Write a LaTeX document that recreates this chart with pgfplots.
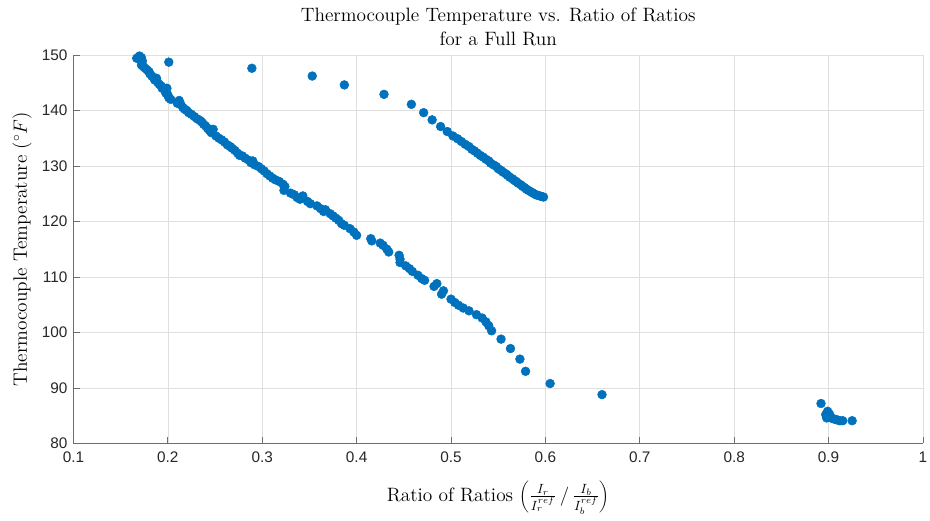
\documentclass[border=0pt]{standalone}
\usepackage{fontspec}
\usepackage{pgfplots}
\pgfplotsset{compat=1.18}
\newfontfamily\tickfont{Liberation Sans}
\definecolor{mblue}{RGB}{0,114,189}
\definecolor{axgray}{RGB}{110,110,110}
\definecolor{grd}{RGB}{223,223,223}
\pgfplotstableread{
x y
0.167 149.4
0.169 149.6
0.170 149.8
0.171 149.2
0.172 149.5
0.173 148.9
0.172 148.2
0.174 147.9
0.176 147.6
0.178 147.3
0.180 147.0
0.181 146.6
0.183 146.2
0.185 145.9
0.186 145.5
0.188 145.8
0.189 145.1
0.191 144.7
0.193 144.4
0.194 144.0
0.196 143.9
0.197 143.5
0.198 143.1
0.200 142.8
0.201 142.3
0.203 142.0
0.199 144.0
0.210 141.3
0.212 141.8
0.214 141.0
0.216 140.5
0.218 140.2
0.220 140.0
0.222 139.6
0.225 139.3
0.228 138.9
0.231 138.5
0.234 138.2
0.236 137.9
0.238 137.5
0.240 137.2
0.242 136.8
0.244 136.4
0.246 136.0
0.248 136.6
0.251 135.4
0.254 135.0
0.257 134.7
0.260 134.3
0.263 133.8
0.266 133.5
0.268 133.2
0.271 132.8
0.274 132.3
0.276 131.9
0.279 131.8
0.282 131.4
0.286 131.0
0.288 130.6
0.290 130.9
0.292 130.2
0.296 129.9
0.299 129.5
0.302 129.1
0.305 128.6
0.308 128.2
0.311 127.8
0.314 127.5
0.318 127.2
0.322 126.7
0.324 126.3
0.323 125.6
0.330 125.1
0.334 124.8
0.337 124.3
0.340 124.0
0.343 124.6
0.348 123.6
0.351 123.2
0.358 122.8
0.362 122.3
0.365 121.8
0.367 122.1
0.372 121.4
0.375 121.0
0.378 120.6
0.381 120.2
0.384 119.6
0.387 119.3
0.393 118.7
0.397 118.1
0.400 117.5
0.415 116.9
0.416 116.5
0.425 116.1
0.428 115.7
0.432 115.0
0.434 114.5
0.445 113.9
0.446 113.2
0.446 112.6
0.452 112.0
0.456 111.5
0.459 111.0
0.465 110.3
0.469 109.7
0.472 109.4
0.482 108.3
0.485 108.8
0.490 106.9
0.492 107.5
0.500 106.0
0.504 105.4
0.508 104.9
0.513 104.4
0.519 103.9
0.527 103.2
0.533 102.6
0.537 101.9
0.540 101.2
0.543 100.3
0.553 98.8
0.563 97.1
0.573 95.2
0.579 93.0
0.605 90.8
0.660 88.8
}\lowerbranch
\pgfplotstableread{
x y
0.201 148.7
0.289 147.6
0.353 146.2
0.387 144.6
0.429 142.9
0.458 141.1
0.471 139.6
0.480 138.3
0.489 137.1
0.496 136.2
0.502 135.4
0.507 134.9
0.511 134.4
0.515 133.9
0.519 133.5
0.522 133.0
0.525 132.7
0.528 132.3
0.531 131.9
0.534 131.6
0.537 131.2
0.540 130.9
0.542 130.5
0.545 130.2
0.548 129.9
0.550 129.5
0.553 129.2
0.555 128.9
0.558 128.6
0.560 128.3
0.562 128.0
0.565 127.7
0.567 127.4
0.569 127.2
0.571 126.9
0.574 126.6
0.576 126.3
0.578 126.1
0.580 125.8
0.582 125.6
0.584 125.4
0.586 125.2
0.588 125.0
0.590 124.8
0.592 124.7
0.594 124.6
0.596 124.5
0.598 124.4
}\upperbranch
\pgfplotstableread{
x y
0.892 87.2
0.897 85.2
0.899 85.8
0.901 85.3
0.900 84.9
0.898 84.6
0.902 84.7
0.904 84.5
0.906 84.4
0.908 84.3
0.910 84.2
0.912 84.1
0.915 84.1
0.925 84.1
}\cluster
\begin{document}
\begin{tikzpicture}
\useasboundingbox (-55.1pt,-58.1pt) rectangle (642.4pt,332.6pt);
\begin{axis}[
  at={(0,0)}, anchor=south west,
  scale only axis, width=637.1pt, height=291.4pt,
  xmin=0.1, xmax=1, ymin=80, ymax=150,
  xtick={0.1,0.2,0.3,0.4,0.5,0.6,0.7,0.8,0.9,1},
  xticklabels={0.1,0.2,0.3,0.4,0.5,0.6,0.7,0.8,0.9,1},
  ytick={80,90,100,110,120,130,140,150},
  axis lines=left,
  axis line style={-, draw=axgray, line width=0.6pt},
  tick align=inside,
  major tick length=5pt,
  tick style={draw=axgray, line width=0.6pt},
  grid=major,
  major grid style={draw=grd, line width=0.5pt},
  /pgf/number format/assume math mode=true,
  tick label style={font=\fontsize{11.5}{13}\selectfont\tickfont, text=black!85},
  xticklabel style={yshift=-3pt},
  yticklabel style={xshift=-1pt},
  title={Thermocouple Temperature vs. Ratio of Ratios\\for a Full Run},
  title style={at={(axis description cs:0.5,1.0514)}, anchor=center, align=center, font=\fontsize{14.5}{18}\selectfont},
  xlabel={Ratio of Ratios $\left(\frac{I_r}{I_r^{ref}}\,/\,\frac{I_b}{I_b^{ref}}\right)$},
  xlabel style={at={(axis description cs:0.5,-0.139)}, anchor=center, font=\fontsize{14.5}{17}\selectfont},
  ylabel={Thermocouple Temperature ($^\circ F$)},
  ylabel style={at={(axis description cs:-0.0606,0.5)}, anchor=center, rotate=0, font=\fontsize{14.5}{17}\selectfont},
  clip=false,
]
\addplot[only marks, mark=*, mark size=3.3pt, mblue, mark options={draw=mblue, fill=mblue}] table[x=x,y=y] {\lowerbranch};
\addplot[only marks, mark=*, mark size=3.3pt, mblue, mark options={draw=mblue, fill=mblue}] table[x=x,y=y] {\upperbranch};
\addplot[only marks, mark=*, mark size=3.3pt, mblue, mark options={draw=mblue, fill=mblue}] table[x=x,y=y] {\cluster};
\end{axis}
\end{tikzpicture}
\end{document}
